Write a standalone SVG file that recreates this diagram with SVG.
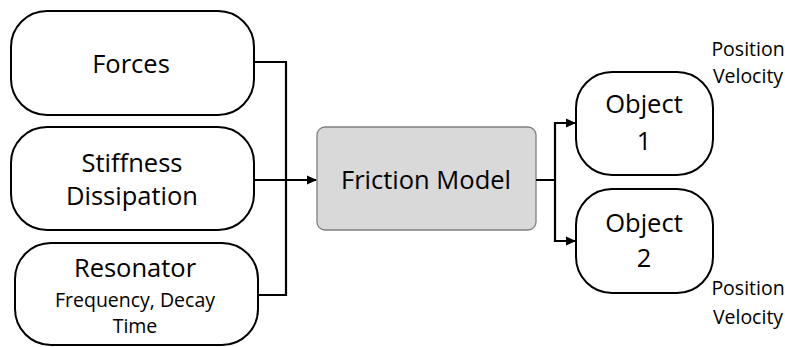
<svg xmlns="http://www.w3.org/2000/svg" width="785" height="347" viewBox="0 0 785 347">
<defs>
<marker id="arr" markerWidth="10" markerHeight="10" refX="9" refY="5" orient="auto" markerUnits="userSpaceOnUse">
<path d="M0,0.5 L10,5 L0,9.5 Z" fill="#000"/>
</marker>
<style>
.node{fill:#fff;stroke:#000;stroke-width:2}
.fm{fill:#d9d9d9;stroke:#7f7f7f;stroke-width:1.3}
.t{font-family:"Open Sans","Liberation Sans",sans-serif;fill:#000;text-anchor:middle}
.big{font-size:25.5px}
.sm{font-size:19.5px}
.c{fill:none;stroke:#000;stroke-width:2.2}
</style>
</defs>
<g id="forces">
<rect class="node" x="11" y="11" width="243" height="104" rx="36"/>
<text class="t big" x="131" y="73">Forces</text>
</g>
<g id="stiffness">
<rect class="node" x="11" y="127" width="243" height="103" rx="36"/>
<text class="t big" x="132" y="172">Stiffness</text>
<text class="t big" x="132" y="205">Dissipation</text>
</g>
<g id="resonator">
<rect class="node" x="15" y="243" width="243" height="102" rx="36"/>
<text class="t big" x="135" y="277">Resonator</text>
<text class="t sm" x="135" y="307">Frequency, Decay</text>
<text class="t sm" x="135" y="333">Time</text>
</g>
<g id="friction">
<rect class="fm" x="317" y="127" width="219" height="103" rx="8"/>
<text class="t big" x="426" y="189">Friction Model</text>
</g>
<g id="object1">
<rect class="node" x="576" y="72" width="137" height="103" rx="36"/>
<text class="t big" x="644" y="113">Object</text>
<text class="t big" x="644" y="150">1</text>
</g>
<g id="object2">
<rect class="node" x="576" y="189" width="137" height="104" rx="36"/>
<text class="t big" x="644" y="232">Object</text>
<text class="t big" x="644" y="267">2</text>
</g>
<g id="labels">
<text class="t sm" x="748" y="56">Position</text>
<text class="t sm" x="748" y="83">Velocity</text>
<text class="t sm" x="748" y="295">Position</text>
<text class="t sm" x="748" y="324">Velocity</text>
</g>
<g id="connectors">
<path class="c" d="M254,62 H286 V295 H258"/>
<path class="c" d="M254,180 H316" marker-end="url(#arr)"/>
<path class="c" d="M536,180 H555 V123 H575" marker-end="url(#arr)"/>
<path class="c" d="M555,180 V241 H575" marker-end="url(#arr)"/>
</g>
</svg>
